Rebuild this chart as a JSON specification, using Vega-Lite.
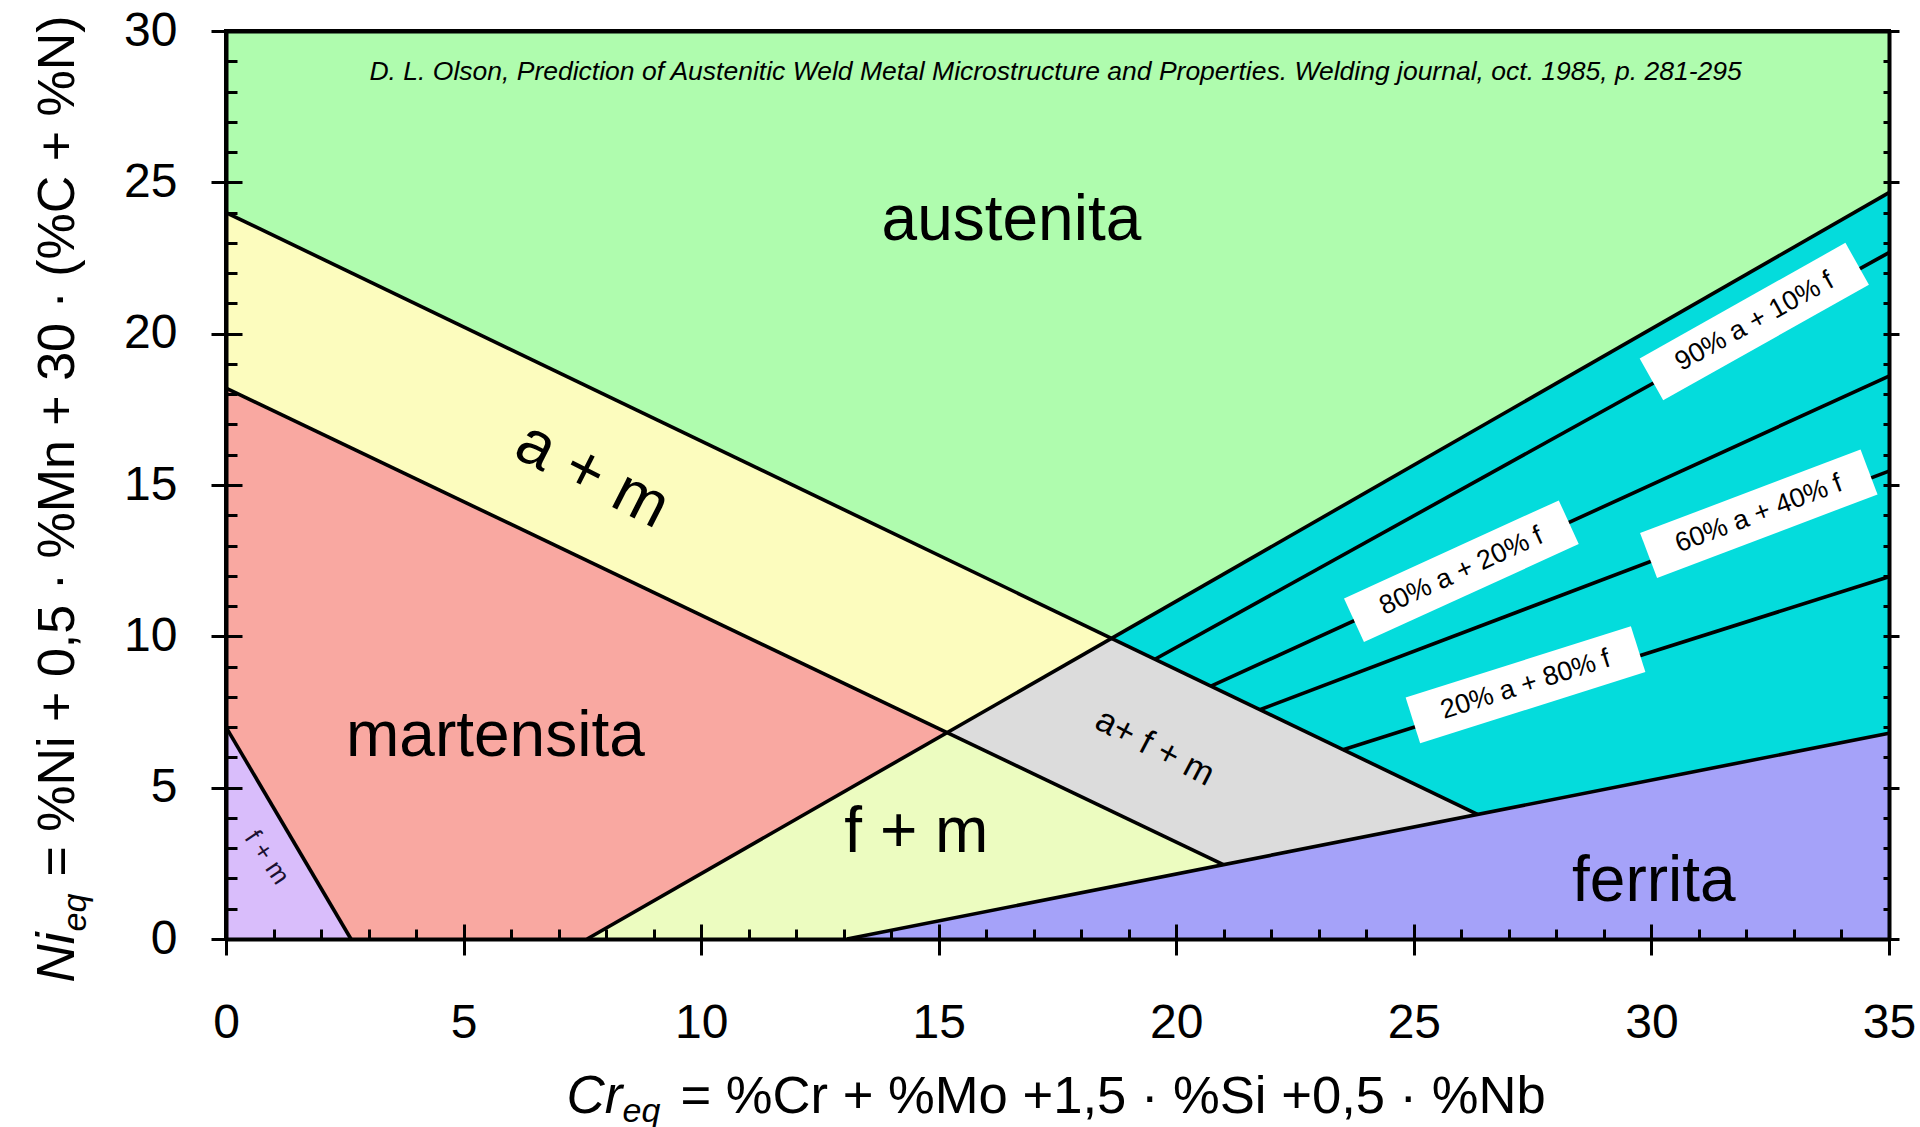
{
  "$schema": "https://vega.github.io/schema/vega-lite/v6.json",
  "width": 1663,
  "height": 908,
  "autosize": {"type": "none"},
  "padding": {"left": 226, "top": 31, "right": 31, "bottom": 188},
  "background": "white",
  "config": {
    "view": {"stroke": "black", "strokeWidth": 4},
    "axis": {
      "grid": false,
      "zindex": 1,
      "tickColor": "black",
      "tickWidth": 3,
      "domainColor": "black",
      "domainWidth": 4,
      "labelFont": "Liberation Sans",
      "labelColor": "black",
      "titleFont": "Liberation Sans",
      "titleColor": "black",
      "titleFontWeight": "normal"
    }
  },
  "datasets": {
    "regions": [
      {"r": "austenita", "o": 1, "x": 0, "y": 30},
      {"r": "austenita", "o": 2, "x": 35, "y": 30},
      {"r": "austenita", "o": 3, "x": 35, "y": 24.66},
      {"r": "austenita", "o": 4, "x": 18.64, "y": 9.93},
      {"r": "austenita", "o": 5, "x": 0, "y": 24},
      {"r": "a+m", "o": 1, "x": 0, "y": 24},
      {"r": "a+m", "o": 2, "x": 18.64, "y": 9.93},
      {"r": "a+m", "o": 3, "x": 15.18, "y": 6.82},
      {"r": "a+m", "o": 4, "x": 0, "y": 18.2},
      {"r": "martensita", "o": 1, "x": 0, "y": 18.2},
      {"r": "martensita", "o": 2, "x": 15.18, "y": 6.82},
      {"r": "martensita", "o": 3, "x": 7.6, "y": 0},
      {"r": "martensita", "o": 4, "x": 2.63, "y": 0},
      {"r": "martensita", "o": 5, "x": 0, "y": 7},
      {"r": "f+m small", "o": 1, "x": 0, "y": 7},
      {"r": "f+m small", "o": 2, "x": 2.63, "y": 0},
      {"r": "f+m small", "o": 3, "x": 0, "y": 0},
      {"r": "f+m", "o": 1, "x": 15.18, "y": 6.82},
      {"r": "f+m", "o": 2, "x": 20.99, "y": 2.46},
      {"r": "f+m", "o": 3, "x": 13.07, "y": 0},
      {"r": "f+m", "o": 4, "x": 7.6, "y": 0},
      {"r": "a+f+m", "o": 1, "x": 18.64, "y": 9.93},
      {"r": "a+f+m", "o": 2, "x": 26.34, "y": 4.12},
      {"r": "a+f+m", "o": 3, "x": 20.99, "y": 2.46},
      {"r": "a+f+m", "o": 4, "x": 15.18, "y": 6.82},
      {"r": "a+f", "o": 1, "x": 18.64, "y": 9.93},
      {"r": "a+f", "o": 2, "x": 35, "y": 24.66},
      {"r": "a+f", "o": 3, "x": 35, "y": 6.8},
      {"r": "a+f", "o": 4, "x": 26.34, "y": 4.12},
      {"r": "ferrita", "o": 1, "x": 13.07, "y": 0},
      {"r": "ferrita", "o": 2, "x": 26.34, "y": 4.12},
      {"r": "ferrita", "o": 3, "x": 35, "y": 6.8},
      {"r": "ferrita", "o": 4, "x": 35, "y": 0}
    ],
    "lines": [
      {"s": "L1", "x": 0, "y": 24}, {"s": "L1", "x": 26.34, "y": 4.12},
      {"s": "L2", "x": 0, "y": 18.2}, {"s": "L2", "x": 20.99, "y": 2.46},
      {"s": "L3", "x": 7.6, "y": 0}, {"s": "L3", "x": 35, "y": 24.66},
      {"s": "L4", "x": 13.07, "y": 0}, {"s": "L4", "x": 35, "y": 6.8},
      {"s": "L5", "x": 0, "y": 7}, {"s": "L5", "x": 2.63, "y": 0},
      {"s": "I1", "x": 19.55, "y": 9.244}, {"s": "I1", "x": 35, "y": 22.68},
      {"s": "I2", "x": 20.73, "y": 8.353}, {"s": "I2", "x": 35, "y": 18.6},
      {"s": "I3", "x": 21.76, "y": 7.576}, {"s": "I3", "x": 35, "y": 15.46},
      {"s": "I4", "x": 23.51, "y": 6.255}, {"s": "I4", "x": 35, "y": 11.97}
    ],
    "boxes": [
      {"b": "b1", "x": 30.0, "y": 18.49}, {"b": "b1", "x": 34.33, "y": 22.31},
      {"b": "b2", "x": 23.74, "y": 10.53}, {"b": "b2", "x": 28.26, "y": 13.77},
      {"b": "b3", "x": 29.94, "y": 12.67}, {"b": "b3", "x": 34.58, "y": 15.43},
      {"b": "b4", "x": 24.98, "y": 7.22}, {"b": "b4", "x": 29.72, "y": 9.58}
    ]
  },
  "resolve": {"axis": {"x": "independent", "y": "independent"}},
  "layer": [
    {
      "data": {"name": "regions"},
      "mark": {"type": "line", "interpolate": "linear-closed", "strokeWidth": 0, "fillOpacity": 1},
      "encoding": {
        "x": {"field": "x", "type": "quantitative", "scale": {"domain": [0, 35], "nice": false, "zero": false}, "axis": null},
        "y": {"field": "y", "type": "quantitative", "scale": {"domain": [0, 30], "nice": false, "zero": false}, "axis": null},
        "order": {"field": "o", "type": "quantitative"},
        "detail": {"field": "r", "type": "nominal"},
        "fill": {
          "field": "r", "type": "nominal", "legend": null,
          "scale": {
            "domain": ["austenita", "a+m", "martensita", "f+m small", "f+m", "a+f+m", "a+f", "ferrita"],
            "range": ["#AFFCAE", "#FCFCBE", "#F9A8A1", "#D9BDFB", "#ECFCC0", "#DCDCDC", "#04DCDC", "#A5A2F9"]
          }
        }
      }
    },
    {
      "data": {"name": "lines"},
      "mark": {"type": "line", "color": "black", "strokeWidth": 3.6},
      "encoding": {
        "x": {"field": "x", "type": "quantitative", "scale": {"domain": [0, 35], "nice": false, "zero": false}, "axis": null},
        "y": {"field": "y", "type": "quantitative", "scale": {"domain": [0, 30], "nice": false, "zero": false}, "axis": null},
        "detail": {"field": "s", "type": "nominal"}
      }
    },
    {
      "data": {"name": "boxes"},
      "mark": {"type": "line", "color": "white", "strokeWidth": 48, "strokeCap": "butt"},
      "encoding": {
        "x": {"field": "x", "type": "quantitative", "scale": {"domain": [0, 35], "nice": false, "zero": false}, "axis": null},
        "y": {"field": "y", "type": "quantitative", "scale": {"domain": [0, 30], "nice": false, "zero": false}, "axis": null},
        "detail": {"field": "b", "type": "nominal"}
      }
    },
    {
      "data": {"values": [
        {"label": "austenita", "x": 16.53, "y": 23.1},
        {"label": "martensita", "x": 5.67, "y": 6.06},
        {"label": "ferrita", "x": 30.05, "y": 1.27},
        {"label": "f + m", "x": 14.53, "y": 2.87}
      ]},
      "mark": {"type": "text", "font": "Liberation Sans", "fontSize": 64, "color": "black", "align": "center", "baseline": "alphabetic"},
      "encoding": {
        "x": {"field": "x", "type": "quantitative", "scale": {"domain": [0, 35], "nice": false, "zero": false},
          "axis": {"orient": "bottom", "zindex": 2, "values": [0, 5, 10, 15, 20, 25, 30, 35], "tickSize": 16, "labels": true, "labelFontSize": 48, "labelPadding": 44, "labelFlush": false, "labelOverlap": false, "domain": true, "ticks": true,
            "title": "Cr", "titleFontStyle": "italic", "titleFontSize": 53, "titleX": 340, "titleY": 173, "titleAlign": "left", "titleAnchor": "start", "titleBaseline": "alphabetic", "titleAngle": 0}},
        "y": {"field": "y", "type": "quantitative", "scale": {"domain": [0, 30], "nice": false, "zero": false},
          "axis": {"orient": "left", "zindex": 2, "values": [0, 5, 10, 15, 20, 25, 30], "tickSize": 15, "labels": true, "labelFontSize": 48, "labelPadding": 34, "labelFlush": false, "labelOverlap": false, "domain": true, "ticks": true,
            "title": "Ni", "titleFontStyle": "italic", "titleFontSize": 53, "titleAngle": -90, "titleX": -153, "titleY": 951, "titleAlign": "left", "titleAnchor": "start", "titleBaseline": "alphabetic"}},
        "text": {"field": "label"}
      }
    },
    {
      "data": {"values": [
        {"label": "D. L. Olson, Prediction of Austenitic Weld Metal Microstructure and Properties. Welding journal, oct. 1985, p. 281-295", "x": 17.46, "y": 28.38}
      ]},
      "mark": {"type": "text", "font": "Liberation Sans", "fontSize": 26.5, "fontStyle": "italic", "color": "black", "align": "center", "baseline": "alphabetic"},
      "encoding": {
        "x": {"field": "x", "type": "quantitative", "scale": {"domain": [0, 35], "nice": false, "zero": false},
          "axis": {"orient": "bottom", "zindex": 2, "values": [0, 1, 2, 3, 4, 5, 6, 7, 8, 9, 10, 11, 12, 13, 14, 15, 16, 17, 18, 19, 20, 21, 22, 23, 24, 25, 26, 27, 28, 29, 30, 31, 32, 33, 34, 35], "tickSize": -10, "labels": false, "domain": false, "ticks": true,
            "title": "eq", "titleFontStyle": "italic", "titleFontSize": 34, "titleX": 396, "titleY": 182, "titleAlign": "left", "titleAnchor": "start", "titleBaseline": "alphabetic", "titleAngle": 0}},
        "y": {"field": "y", "type": "quantitative", "scale": {"domain": [0, 30], "nice": false, "zero": false},
          "axis": {"orient": "left", "zindex": 2, "values": [0, 1, 2, 3, 4, 5, 6, 7, 8, 9, 10, 11, 12, 13, 14, 15, 16, 17, 18, 19, 20, 21, 22, 23, 24, 25, 26, 27, 28, 29, 30], "tickSize": -11, "labels": false, "domain": false, "ticks": true,
            "title": "eq", "titleFontStyle": "italic", "titleFontSize": 34, "titleAngle": -90, "titleX": -141, "titleY": 900, "titleAlign": "left", "titleAnchor": "start", "titleBaseline": "alphabetic"}},
        "text": {"field": "label"}
      }
    },
    {
      "data": {"values": [{"label": "a + m", "x": 7.71, "y": 15.31}]},
      "mark": {"type": "text", "font": "Liberation Sans", "fontSize": 64, "color": "black", "align": "center", "baseline": "middle", "angle": 27},
      "encoding": {
        "x": {"field": "x", "type": "quantitative", "scale": {"domain": [0, 35], "nice": false, "zero": false},
          "axis": {"orient": "bottom", "zindex": 2, "values": [0, 5, 10, 15, 20, 25, 30, 35], "tickSize": -15, "labels": false, "domain": false, "ticks": true,
            "title": "= %Cr + %Mo +1,5 · %Si +0,5 · %Nb", "titleFontSize": 52.6, "titleX": 454, "titleY": 173, "titleAlign": "left", "titleAnchor": "start", "titleBaseline": "alphabetic", "titleAngle": 0}},
        "y": {"field": "y", "type": "quantitative", "scale": {"domain": [0, 30], "nice": false, "zero": false},
          "axis": {"orient": "left", "zindex": 2, "values": [0, 5, 10, 15, 20, 25, 30], "tickSize": -16, "labels": false, "domain": false, "ticks": true,
            "title": "= %Ni + 0,5 · %Mn + 30 · (%C + %N)", "titleFontSize": 52, "titleAngle": -90, "titleX": -153, "titleY": 845, "titleAlign": "left", "titleAnchor": "start", "titleBaseline": "alphabetic"}},
        "text": {"field": "label"}
      }
    },
    {
      "data": {"values": [{"label": "a+ f + m", "x": 19.55, "y": 6.34}]},
      "mark": {"type": "text", "font": "Liberation Sans", "fontSize": 35, "color": "black", "align": "center", "baseline": "middle", "angle": 27.5},
      "encoding": {
        "x": {"field": "x", "type": "quantitative", "scale": {"domain": [0, 35], "nice": false, "zero": false},
          "axis": {"orient": "top", "zindex": 2, "domain": true, "ticks": false, "labels": false, "title": null}},
        "y": {"field": "y", "type": "quantitative", "scale": {"domain": [0, 30], "nice": false, "zero": false},
          "axis": {"orient": "right", "zindex": 2, "values": [0, 1, 2, 3, 4, 5, 6, 7, 8, 9, 10, 11, 12, 13, 14, 15, 16, 17, 18, 19, 20, 21, 22, 23, 24, 25, 26, 27, 28, 29, 30], "tickSize": -6, "labels": false, "domain": true, "ticks": true, "title": null}},
        "text": {"field": "label"}
      }
    },
    {
      "data": {"values": [{"label": "f + m", "x": 0.86, "y": 2.69}]},
      "mark": {"type": "text", "font": "Liberation Sans", "fontSize": 26, "color": "#1a1030", "align": "center", "baseline": "middle", "angle": 56},
      "encoding": {
        "x": {"field": "x", "type": "quantitative", "scale": {"domain": [0, 35], "nice": false, "zero": false}, "axis": null},
        "y": {"field": "y", "type": "quantitative", "scale": {"domain": [0, 30], "nice": false, "zero": false},
          "axis": {"orient": "right", "zindex": 2, "values": [0, 5, 10, 15, 20, 25, 30], "tickSize": 10, "labels": false, "domain": false, "ticks": true, "title": null}},
        "text": {"field": "label"}
      }
    },
    {
      "data": {"values": [{"label": "90% a + 10% f", "x": 32.17, "y": 20.4}]},
      "mark": {"type": "text", "font": "Liberation Sans", "fontSize": 27, "color": "black", "align": "center", "baseline": "middle", "angle": -29},
      "encoding": {
        "x": {"field": "x", "type": "quantitative", "scale": {"domain": [0, 35], "nice": false, "zero": false}, "axis": null},
        "y": {"field": "y", "type": "quantitative", "scale": {"domain": [0, 30], "nice": false, "zero": false}, "axis": null},
        "text": {"field": "label"}
      }
    },
    {
      "data": {"values": [{"label": "80% a + 20% f", "x": 26.0, "y": 12.15}]},
      "mark": {"type": "text", "font": "Liberation Sans", "fontSize": 27, "color": "black", "align": "center", "baseline": "middle", "angle": -24.6},
      "encoding": {
        "x": {"field": "x", "type": "quantitative", "scale": {"domain": [0, 35], "nice": false, "zero": false}, "axis": null},
        "y": {"field": "y", "type": "quantitative", "scale": {"domain": [0, 30], "nice": false, "zero": false}, "axis": null},
        "text": {"field": "label"}
      }
    },
    {
      "data": {"values": [{"label": "60% a + 40% f", "x": 32.26, "y": 14.05}]},
      "mark": {"type": "text", "font": "Liberation Sans", "fontSize": 27, "color": "black", "align": "center", "baseline": "middle", "angle": -20.8},
      "encoding": {
        "x": {"field": "x", "type": "quantitative", "scale": {"domain": [0, 35], "nice": false, "zero": false}, "axis": null},
        "y": {"field": "y", "type": "quantitative", "scale": {"domain": [0, 30], "nice": false, "zero": false}, "axis": null},
        "text": {"field": "label"}
      }
    },
    {
      "data": {"values": [{"label": "20% a + 80% f", "x": 27.35, "y": 8.4}]},
      "mark": {"type": "text", "font": "Liberation Sans", "fontSize": 27, "color": "black", "align": "center", "baseline": "middle", "angle": -17.6},
      "encoding": {
        "x": {"field": "x", "type": "quantitative", "scale": {"domain": [0, 35], "nice": false, "zero": false}, "axis": null},
        "y": {"field": "y", "type": "quantitative", "scale": {"domain": [0, 30], "nice": false, "zero": false}, "axis": null},
        "text": {"field": "label"}
      }
    }
  ]
}
